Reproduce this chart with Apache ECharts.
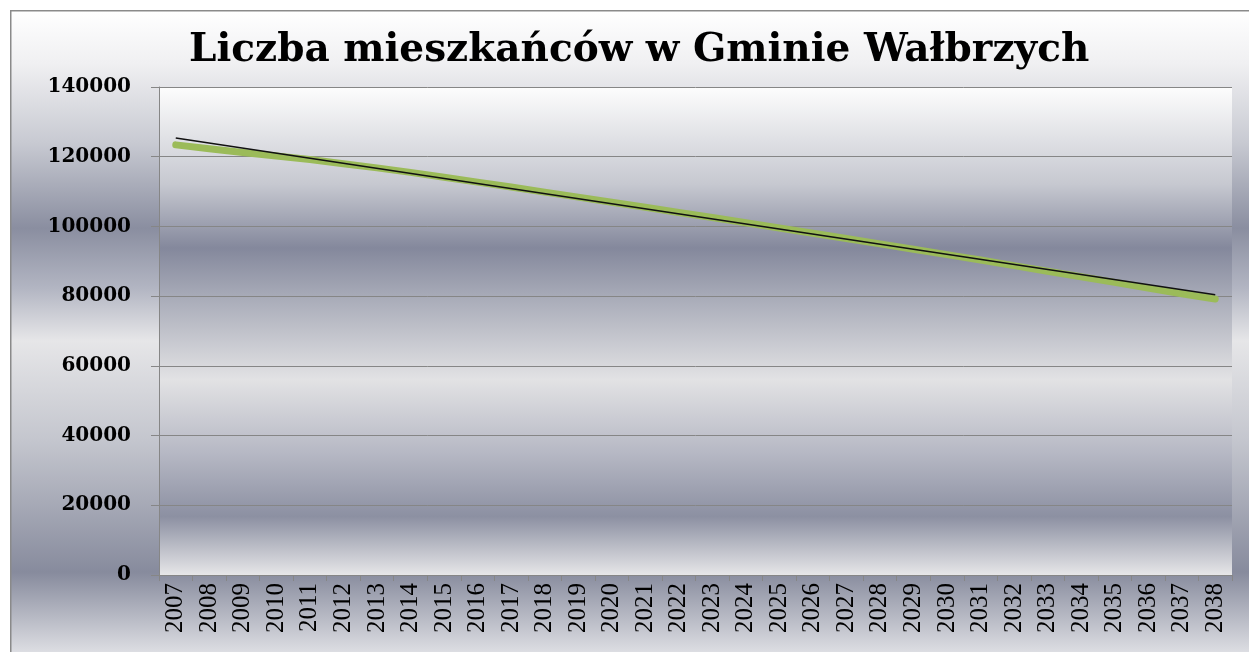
<!DOCTYPE html>
<html>
<head>
<meta charset="utf-8">
<script src="https://cdn.jsdelivr.net/npm/echarts@6/dist/echarts.min.js"></script>
<style>
  html, body { margin: 0; padding: 0; background: #fff; }
  #chart { width: 1249px; height: 652px; }
</style>
</head>
<body>
<div id="chart"></div>
<script>
// lata
const years = ['2007', '2008', '2009', '2010', '2011', '2012', '2013', '2014', '2015', '2016',
  '2017', '2018', '2019', '2020', '2021', '2022', '2023', '2024', '2025', '2026',
  '2027', '2028', '2029', '2030', '2031', '2032', '2033', '2034', '2035', '2036',
  '2037', '2038']

// liczba mieszkańców (odczyt z wykresu)
const population = [123400, 122300, 121200, 120200, 119200, 118000, 116800, 115500, 114100, 112700,
  111300, 109850, 108400, 106950, 105500, 104000, 102550, 101050, 99550, 98050,
  96550, 95000, 93450, 91900, 90350, 88750, 87150, 85550, 83950, 82300,
  80700, 79200]

// linia trendu - tylko końce
const trend = [125400, null, null, null, null, null, null, null, null, null,
  null, null, null, null, null, null, null, null, null, null,
  null, null, null, null, null, null, null, null, null, null,
  null, 80400]

const yTicks = [0, 20000, 40000, 60000, 80000, 100000, 120000, 140000]

const chart = echarts.init(document.getElementById('chart'))

// gradient tła (chrom)
const outerBg = new echarts.graphic.LinearGradient(0, 0, 0, 1, [
  { offset: 0, color: '#ffffff' },
  { offset: 0.08, color: '#f0f0f2' },
  { offset: 0.2, color: '#c8cad2' },
  { offset: 0.33, color: '#8a8ea0' },
  { offset: 0.42, color: '#b2b5c2' },
  { offset: 0.5, color: '#e6e6e8' },
  { offset: 0.65, color: '#c4c6ce' },
  { offset: 0.85, color: '#878b9d' },
  { offset: 0.97, color: '#dcdde2' },
  { offset: 1, color: '#e8e8ea' }
])

const plotBg = new echarts.graphic.LinearGradient(0, 0, 0, 1, [
  { offset: 0, color: '#fdfdfd' },
  { offset: 0.2, color: '#c6c8d0' },
  { offset: 0.33, color: '#84889c' },
  { offset: 0.43, color: '#a8abb8' },
  { offset: 0.6, color: '#e2e2e4' },
  { offset: 0.75, color: '#b6b8c4' },
  { offset: 0.88, color: '#8c90a2' },
  { offset: 1, color: '#e6e6e8' }
])

const option = {
  animation: false,
  graphic: [{
    type: 'rect',
    left: 10,
    top: 10,
    shape: { width: 1260, height: 660 },
    style: { fill: outerBg, stroke: '#8a8a8a', lineWidth: 1.5 },
    z: -10
  }],
  title: {
    text: 'Liczba mieszkańców w Gminie Wałbrzych',
    left: 184,
    top: 26,
    textStyle: {
      fontFamily: 'DejaVu Serif',
      fontWeight: 'bold',
      fontSize: 39,
      color: '#000'
    }
  },
  grid: {
    left: 159,
    right: 17,
    top: 87,
    bottom: 77,
    show: true,
    backgroundColor: plotBg,
    borderWidth: 0
  },
  xAxis: {
    type: 'category',
    data: years,
    boundaryGap: true,
    axisLine: { lineStyle: { color: '#868686', width: 1 } },
    axisTick: { show: true, length: 6, lineStyle: { color: '#868686' } },
    axisLabel: {
      rotate: 90,
      interval: 0,
      margin: 8,
      fontFamily: 'Liberation Serif',
      fontSize: 25,
      color: '#000'
    }
  },
  yAxis: {
    type: 'value',
    min: yTicks[0],
    max: yTicks[yTicks.length - 1],
    interval: 20000,
    axisLine: { show: true, lineStyle: { color: '#868686', width: 1 } },
    axisTick: { show: true, length: 8, lineStyle: { color: '#868686' } },
    axisLabel: {
      margin: 28,
      fontFamily: 'DejaVu Serif',
      fontWeight: 'bold',
      fontSize: 20,
      color: '#000',
      formatter: (v) => String(v)
    },
    splitLine: { lineStyle: { color: '#868686', width: 1 } }
  },
  series: [
    {
      name: 'Liczba mieszkańców',
      type: 'line',
      data: population,
      symbol: 'none',
      lineStyle: { color: '#9bbb59', width: 7, cap: 'round', join: 'round' },
      z: 2
    },
    {
      name: 'Trend',
      type: 'line',
      data: trend,
      connectNulls: true,
      symbol: 'none',
      lineStyle: { color: '#111', width: 1.5 },
      z: 3
    }
  ]
}

chart.setOption(option)
</script>
</body>
</html>
